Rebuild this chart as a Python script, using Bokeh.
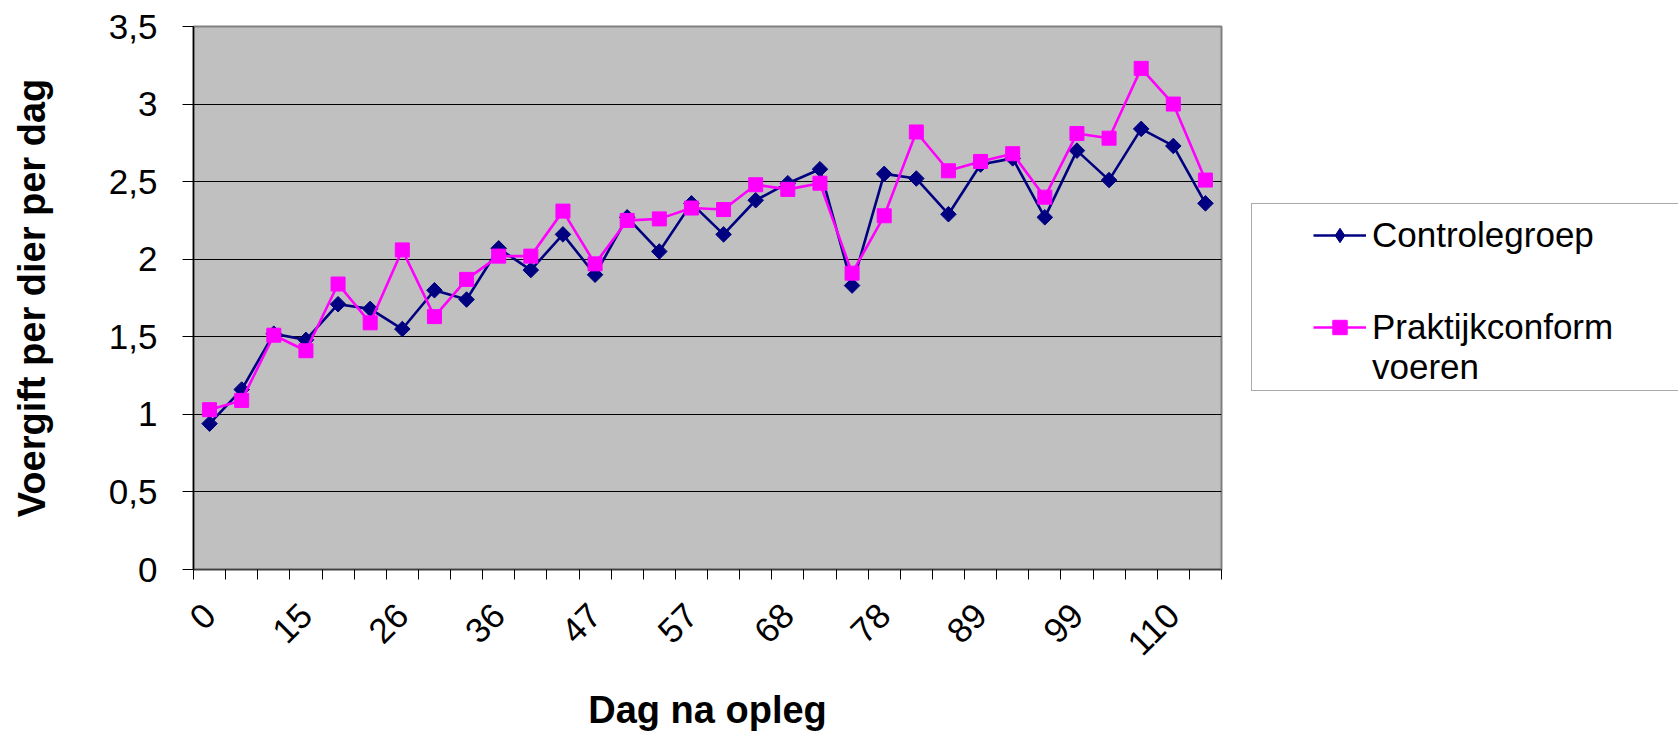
import math
from bokeh.plotting import figure
from bokeh.layouts import row
from bokeh.models import Range1d, FixedTicker, Legend, LegendItem
from bokeh.embed import file_html
from bokeh.resources import INLINE

# ---- data ----
tick_labels = ["0", "15", "26", "36", "47", "57", "68", "78", "89", "99", "110"]
n_points = 32
label_every = 3
controlegroep = [0.94, 1.16, 1.52, 1.48, 1.71, 1.68, 1.55, 1.80, 1.74, 2.07, 1.93, 2.16,
                 1.90, 2.27, 2.05, 2.36, 2.16, 2.38, 2.49, 2.58, 1.83, 2.55, 2.52, 2.29,
                 2.61, 2.65, 2.27, 2.70, 2.51, 2.84, 2.73, 2.36]
praktijk = [1.03, 1.09, 1.51, 1.41, 1.84, 1.59, 2.06, 1.63, 1.87, 2.02, 2.02, 2.31,
            1.97, 2.25, 2.26, 2.33, 2.32, 2.48, 2.45, 2.49, 1.91, 2.28, 2.82, 2.57,
            2.63, 2.68, 2.40, 2.81, 2.78, 3.23, 3.00, 2.51]
y_ticks = [0, 0.5, 1, 1.5, 2, 2.5, 3, 3.5]
y_tick_labels = ["0", "0,5", "1", "1,5", "2", "2,5", "3", "3,5"]
series_names = ["Controlegroep", "Praktijkconform", "voeren"]

FONT = "Liberation Sans"
NAVY = "#000080"
MAGENTA = "#FF00FF"

xs = [i + 0.5 for i in range(n_points)]

FL, FT, FW, FH = 193, 26, 1028, 543
W1, H = 1251, 731
W2 = 427

p = figure(width=W1, height=H, frame_width=FW, frame_height=FH,
           min_border_left=FL, min_border_top=FT,
           min_border_right=W1 - FL - FW, min_border_bottom=H - FT - FH,
           x_range=Range1d(0, n_points), y_range=Range1d(0, 3.5),
           output_backend="svg", toolbar_location=None)

p.background_fill_color = "#C0C0C0"
p.border_fill_color = "white"
p.outline_line_color = "#808080"
p.outline_line_width = 2

line_w = 2.6
diamond_style = dict(marker="square", angle=math.pi / 4, size=11,
                     fill_color=NAVY, line_color=NAVY)
square_style = dict(marker="square", size=14, fill_color=MAGENTA, line_color=MAGENTA)

p.line(xs, controlegroep, line_color=NAVY, line_width=line_w)
p.scatter(xs, controlegroep, **diamond_style)
p.line(xs, praktijk, line_color=MAGENTA, line_width=line_w)
p.scatter(xs, praktijk, **square_style)

# y axis
yax = p.yaxis[0]
yax.ticker = FixedTicker(ticks=y_ticks)
yax.major_label_overrides = {t: l for t, l in zip(y_ticks, y_tick_labels)}
yax.major_label_text_font = FONT
yax.major_label_text_font_size = "35px"
yax.major_label_text_color = "black"
yax.major_tick_out = 11
yax.major_tick_in = 0
yax.minor_tick_out = 0
yax.minor_tick_in = 0
yax.major_label_standoff = 25
yax.axis_line_color = "black"
yax.axis_line_width = 1.5
yax.axis_label = "Voergift per dier per dag"
yax.axis_label_text_font = FONT
yax.axis_label_text_font_size = "38px"
yax.axis_label_text_font_style = "bold"
yax.axis_label_text_color = "black"
yax.axis_label_standoff = 53

# x axis
label_pos = [i * label_every + 0.5 for i in range(len(tick_labels))]
xax = p.xaxis[0]
xax.ticker = FixedTicker(ticks=label_pos, minor_ticks=list(range(n_points + 1)))
xax.major_label_overrides = {t: l for t, l in zip(label_pos, tick_labels)}
xax.major_label_orientation = math.pi / 4
xax.major_label_text_font = FONT
xax.major_label_text_font_size = "35px"
xax.major_label_text_color = "black"
xax.major_tick_out = 0
xax.major_tick_in = 0
xax.minor_tick_out = 10
xax.minor_tick_in = 0
xax.minor_tick_line_color = "black"
xax.major_label_standoff = 30
xax.axis_line_color = "#404040"
xax.axis_line_width = 1.5
xax.axis_label = "Dag na opleg"
xax.axis_label_text_font = FONT
xax.axis_label_text_font_size = "38px"
xax.axis_label_text_font_style = "bold"
xax.axis_label_text_color = "black"
xax.axis_label_standoff = 20

p.xgrid.visible = False
p.ygrid.ticker = FixedTicker(ticks=y_ticks)
p.ygrid.grid_line_color = "black"
p.ygrid.grid_line_width = 1

# ---- legend panel (separate figure to the right) ----
q = figure(width=W2, height=H, x_range=Range1d(0, W2), y_range=Range1d(0, H),
           x_axis_type=None, y_axis_type=None,
           min_border=0, output_backend="svg", toolbar_location=None)
q.grid.visible = False
q.outline_line_color = None
q.background_fill_color = "white"
q.border_fill_color = "white"

# legend proxies: the series themselves, mapped to a range that keeps them off-canvas
q.extra_x_ranges = {"off": Range1d(-1000, -900)}
gl1 = q.line(xs, controlegroep, line_color=NAVY, line_width=line_w, x_range_name="off")
gs1 = q.scatter(xs, controlegroep, marker="diamond", fill_color=NAVY, line_color=NAVY,
                x_range_name="off")
gl2 = q.line(xs, praktijk, line_color=MAGENTA, line_width=line_w, x_range_name="off")
gs2 = q.scatter(xs, praktijk, x_range_name="off", **square_style)
blank = q.line(xs, praktijk, line_alpha=0, x_range_name="off")

# the legend frame's bottom edge sits at this page y in the row layout
REF_BOTTOM = 567

box_top, box_bottom = 205, 391
box = Legend(items=[LegendItem(label=" ", renderers=[blank])],
             location=(0, REF_BOTTOM - box_bottom),
             padding=0, spacing=0, margin=0, glyph_width=1, glyph_height=1,
             label_standoff=0, label_width=W2 - 2, label_height=box_bottom - box_top,
             label_text_font_size="10px",
             border_line_color="#555555", border_line_width=1.5,
             background_fill_color="white", background_fill_alpha=1)
q.add_layout(box)

row_h = 40
glyph_x = 1313 - W1
common = dict(padding=0, spacing=0, margin=0, glyph_width=53, glyph_height=36,
              label_standoff=6, label_height=row_h, label_text_font=FONT,
              label_text_font_size="35px", label_text_color="black",
              border_line_alpha=0, background_fill_alpha=0)
c1 = 235
leg1 = Legend(items=[LegendItem(label=series_names[0], renderers=[gl1, gs1])],
              location=(glyph_x, REF_BOTTOM - (c1 + row_h // 2)), **common)
c2 = 327
leg2 = Legend(items=[LegendItem(label=series_names[1], renderers=[gl2, gs2]),
                     LegendItem(label=series_names[2], renderers=[blank])],
              location=(glyph_x, REF_BOTTOM - (c2 - row_h // 2 + 2 * row_h)), **common)
q.add_layout(leg1)
q.add_layout(leg2)

layout = row(p, q, spacing=0)
open("out.html", "w").write(file_html(layout, INLINE))
